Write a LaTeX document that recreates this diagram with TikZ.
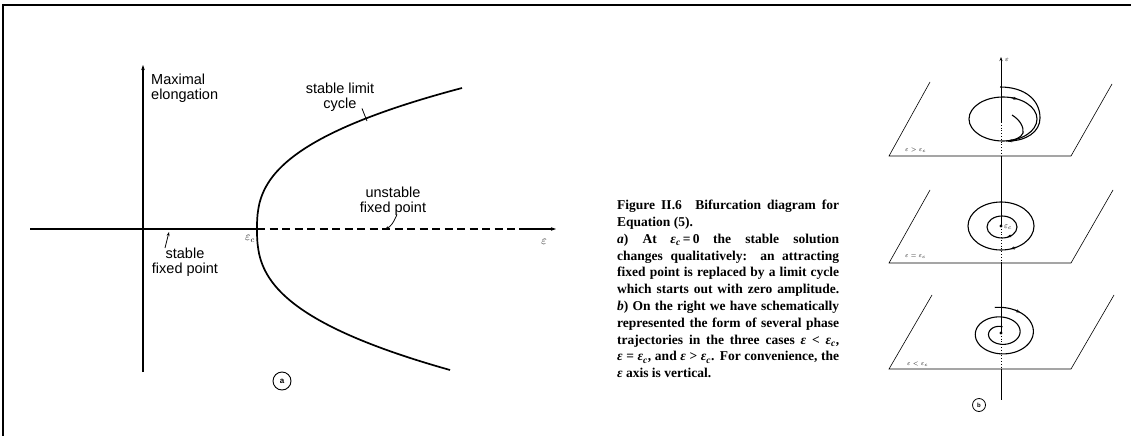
\documentclass[tikz,border=0pt]{standalone}
\usepackage{fontspec}
\setmainfont{Liberation Serif}
\newfontfamily\labfont{Liberation Sans}
\usetikzlibrary{arrows.meta}
\newcommand\Jline[1]{\makebox[\linewidth][s]{#1}}
\newcommand\eps{\textit{ε}}
\newcommand\epsc{\textit{ε}\textsubscript{\textit{c}}}
\begin{document}
\begin{tikzpicture}[x=1pt,y=-1pt,
  axis/.style={line width=1.1pt},
  branch/.style={line width=1.7pt},
  lab/.style={font=\labfont\fontsize{14.5}{15}\selectfont, align=center, inner sep=0pt},
  leader/.style={line width=0.8pt},
  tip/.style={-{Stealth[length=5pt,width=3.5pt]}},
  smalltip/.style={-{Stealth[length=4pt,width=3pt]}},
  plane/.style={line width=0.6pt},
  traj/.style={line width=1.1pt},
  plab/.style={font=\fontsize{6.5}{7}\selectfont, inner sep=0pt},
]
\useasboundingbox (0,0) rectangle (1131,436);
% frame
\draw[line width=2pt] (2.25,5) -- (1131,5);
\draw[line width=1.5pt] (3,4) -- (3,436);

% ---------- left panel ----------
\coordinate (vbot) at (143,372);
\coordinate (vtop) at (143,65);
\coordinate (hl) at (30,229);
\coordinate (vx) at (257,229);
\coordinate (dend) at (515,229);
\coordinate (hs) at (519,229);
\coordinate (hr) at (556,229);
\draw[axis, tip] (vbot) -- (vtop);
\draw[axis] (hl) -- (vx);
\draw[axis, dash pattern=on 8pt off 4.5pt] (vx) -- (dend);
\draw[axis, tip] (hs) -- (hr);
\draw[branch] plot[smooth, samples=81, domain=-141:141]
  ({257+(\x<0 ? 205 : 193)*pow((abs(\x)+0.01)/141,2.6)}, {229+\x});

\node[lab, align=left, anchor=north west] (maxl) at (151,74) {Maximal\\elongation};
\node[lab] (slc) at (340,97) {stable limit\\cycle};
\coordinate (slcend) at (367,121);
\draw[leader] (slc.south) ++(22,-3) -- (slcend);
\node[lab] (ufp) at (393,201) {unstable\\fixed point};
\coordinate (ufpend) at (385,229);
\draw[leader, smalltip] (ufp.south) ++(4,-1) .. controls (393,224) and (390,227) .. (ufpend);
\node[lab] (sfp) at (185,262) {stable\\fixed point};
\coordinate (sfpend) at (169,232);
\draw[leader, smalltip] (165,248) -- (sfpend);
\node[font=\fontsize{12}{12}\selectfont, inner sep=0pt] (ec) at (250,239) {$\varepsilon_c$};
\node[font=\fontsize{12}{12}\selectfont, inner sep=0pt] (epsx) at (544,242) {$\varepsilon$};
\node[draw, circle, minimum size=18pt, inner sep=0pt, line width=0.9pt,
  font=\labfont\bfseries\fontsize{8}{8}\selectfont] (cira) at (282,381) {a};

% ---------- caption ----------
\node[anchor=north west, inner sep=0pt] (cap) at (617,200) {\parbox[t]{222pt}{\fontsize{13.5}{16.8}\selectfont\bfseries
\Jline{Figure II.6\quad Bifurcation diagram for}\\
Equation (5).\\
\Jline{\textit{a}) At\quad \epsc\,=\,0\quad the stable solution}\\
\Jline{changes qualitatively: an attracting}\\
\Jline{fixed point is replaced by a limit cycle}\\
\Jline{which starts out with zero amplitude.}\\
\Jline{\textit{b}) On the right we have schematically}\\
\Jline{represented the form of several phase}\\
\Jline{trajectories in the three cases \eps\ < \epsc,}\\
\Jline{\eps\ = \epsc, and \eps\ > \epsc. For convenience, the}\\
\eps\ axis is vertical.}};

% ---------- right panel ----------
% planes
\draw[plane] (930,82) -- (889,156) -- (1071,156) -- (1112,84);
\draw[plane] (930,190) -- (889,263) -- (1071,263) -- (1113,190);
\draw[plane] (932,295) -- (889,369) -- (1071,369) -- (1114,295);
\node[plab, anchor=west] (l1) at (905,150) {$\varepsilon>\varepsilon_c$};
\node[plab, anchor=west] (l2) at (905,257) {$\varepsilon=\varepsilon_c$};
\node[plab, anchor=west] (l3) at (907,364) {$\varepsilon<\varepsilon_c$};

% vertical epsilon axis
\coordinate (a0) at (1001,57);
\coordinate (a1) at (1001,122);
\coordinate (a2) at (1001,156);
\coordinate (a3) at (1001,226);
\coordinate (a4) at (1001,263);
\coordinate (a5) at (1001,333);
\coordinate (a6) at (1001,369);
\coordinate (a7) at (1001,400);
\draw[line width=0.9pt, smalltip] (a1) -- (a0);
\draw[line width=0.8pt, dotted] (a1) -- (a2);
\draw[line width=0.9pt] (a2) -- (a3);
\draw[line width=0.8pt, dotted] (a3) -- (a4);
\draw[line width=0.9pt] (a4) -- (a5);
\draw[line width=0.8pt, dotted] (a5) -- (a6);
\draw[line width=0.9pt] (a6) -- (a7);
\node[font=\fontsize{7}{7}\selectfont, inner sep=0pt] (epsv) at (1007,60) {$\varepsilon$};

% top plane: limit cycle and trajectories
\draw[traj] (1003,119) ellipse [x radius=34, y radius=22];
\draw[traj] (1000,87) .. controls (1025,87) and (1040,100) .. (1040,118)
  .. controls (1040,132) and (1026,141) .. (1008,141);
\draw[traj] (1012,115) .. controls (1020,120) and (1024,127) .. (1023,133)
  .. controls (1021,138) and (1015,140) .. (1006,141);
\draw[traj, smalltip] (1011.8,97.75) -- (1017.4,99.1);
\draw[traj, smalltip] (1014,140.6) -- (1008,141.2);

% middle plane: centre and cycles
\fill (a3) circle (1.6pt);
\node[font=\fontsize{8}{8}\selectfont, inner sep=0pt, anchor=west] (ecm) at (1004,227) {$\varepsilon_c$};
\draw[traj] (1001,226) ellipse [x radius=33, y radius=24];
\draw[traj] (1002,227) ellipse [x radius=15, y radius=11];
\draw[traj, smalltip] (1016,247.4) -- (1010.6,249);
\draw[traj, smalltip] (1011.6,235.4) -- (1007.1,237.3);

% bottom plane: spiral
\fill (a5) circle (1.6pt);
\draw[traj] plot[smooth, samples=160, domain=-100:640]
  ({1001+(36-0.037*(\x+100))*cos(\x)}, {333+0.72*(36-0.037*(\x+100))*sin(\x)});
\draw[traj, smalltip] (1015.1,310.15) -- (1020.2,312.5);

\node[draw, circle, minimum size=13pt, inner sep=0pt, line width=0.8pt,
  font=\labfont\bfseries\fontsize{6}{6}\selectfont] (cirb) at (979,405) {b};
\end{tikzpicture}
\end{document}
